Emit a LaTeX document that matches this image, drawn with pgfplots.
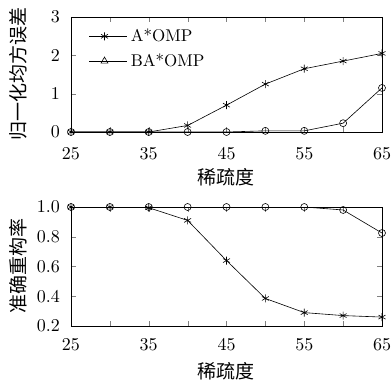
\documentclass[border=0pt]{standalone}
\usepackage{fontspec}
\setmainfont{lmroman10-regular}[Extension=.otf, BoldFont=lmroman10-bold, ItalicFont=lmroman10-italic]
\newfontfamily\cjk{Noto Sans CJK SC}
\usepackage{pgfplots}
\pgfplotsset{compat=1.18}
\begin{document}
\begin{tikzpicture}
\pgfplotsset{
  myax/.style={
    scale only axis,
    width=311pt,
    xmin=25, xmax=65,
    xtick={25,30,...,65},
    xticklabels={25,,35,,45,,55,,65},
    /pgf/number format/assume math mode=true,
    tick label style={font=\fontsize{18}{20}\selectfont, inner sep=0pt},
    yticklabel style={xshift=-11pt},
    label style={font=\cjk\fontsize{19}{21}\selectfont, inner sep=0pt},
    xlabel={稀疏度},
    ylabel style={at={([xshift=-44pt]axis description cs:0,0.5)}, anchor=south},
    tick align=inside,
    major tick length=5pt,
    every axis plot/.append style={black, line width=0.6pt},
    axis line style={line width=0.7pt},
  }
}
\begin{axis}[myax, name=bot,
  at={(0,0)}, anchor=south west,
  height=119pt,
  ymin=0.2, ymax=1.0,
  ytick={0.2,0.4,0.6,0.8,1.0},
  yticklabel style={/pgf/number format/.cd, fixed, fixed zerofill, precision=1},
  xticklabel style={yshift=-12pt},
  xlabel style={at={([yshift=-36pt]axis description cs:0.5,0)}, anchor=north},
  ylabel={准确重构率},
]
\addplot[mark=asterisk, mark size=4pt] coordinates {
(25,1.0) (30,1.0) (35,0.995) (40,0.91) (45,0.64) (50,0.385) (55,0.29) (60,0.27) (65,0.26)};
\addplot[mark=o, mark size=3.5pt] coordinates {
(25,1.0) (30,1.0) (35,1.0) (40,1.0) (45,1.0) (50,1.0) (55,1.0) (60,0.98) (65,0.825)};
\end{axis}
\begin{axis}[myax,
  at={(0,194pt)}, anchor=south west,
  height=115pt,
  ymin=0, ymax=3,
  ytick={0,1,2,3},
  xticklabel style={yshift=-15pt},
  xlabel style={at={([yshift=-36pt]axis description cs:0.5,0)}, anchor=north},
  ylabel={归一化均方误差},
  legend style={draw=none, fill=none, at={(0,1)}, anchor=north west,
    xshift=18pt, yshift=-9pt,
    font=\fontsize{17}{19}\selectfont, row sep=4.5pt, inner sep=0pt,
    nodes={inner sep=3pt}},
  legend cell align=left,
  legend image code/.code={
    \path (0pt,0pt) -- (38pt,0pt);
    \draw[#1, mark=none] (0pt,0pt) -- (30pt,0pt);
    \draw[#1, only marks] plot coordinates {(15pt,0pt)};
  },
]
\addplot[mark=asterisk, mark size=4pt] coordinates {
(25,0) (30,0) (35,0) (40,0.17) (45,0.7) (50,1.25) (55,1.65) (60,1.85) (65,2.05)};
\addlegendentry{A*OMP}
\addlegendimage{black, line width=0.6pt, mark=triangle, mark size=4pt}
\addlegendentry{BA*OMP}
\addplot[mark=o, mark size=3.5pt, forget plot] coordinates {
(25,0) (30,0) (35,0) (40,0) (45,0) (50,0.03) (55,0.03) (60,0.23) (65,1.15)};
\end{axis}
\path ([shift={(-71pt,-56pt)}]bot.south west) rectangle ([shift={(320pt,326pt)}]bot.south west);
\end{tikzpicture}
\end{document}
